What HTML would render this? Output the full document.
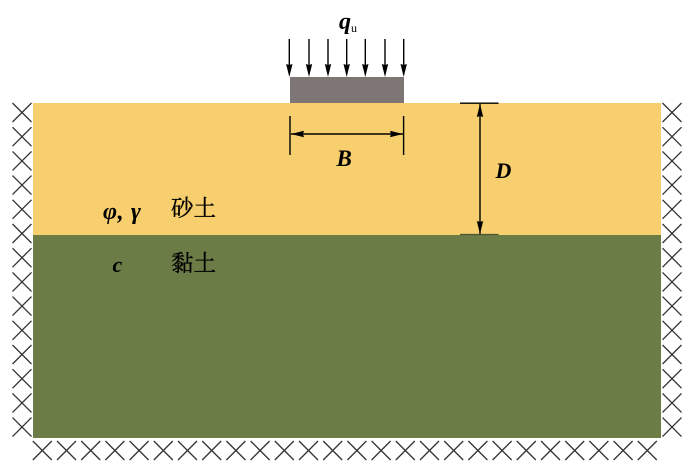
<!DOCTYPE html>
<html>
<head>
<meta charset="utf-8">
<style>
html,body{margin:0;padding:0;background:#fff;width:700px;height:471px;overflow:hidden}
svg{display:block}
.l{font-family:"Liberation Serif",serif;font-style:italic;font-weight:bold;fill:#000}
.z{font-family:"Liberation Serif","Noto Serif CJK SC",serif;font-size:22.500px;fill:#000;stroke:#000;stroke-width:.35px}
</style>
</head>
<body>
<svg width="700" height="471" viewBox="0 0 700 471" xmlns="http://www.w3.org/2000/svg">
<defs>
<path id="x" d="M-9.5-9.5L9.5 9.5M-9.5 9.5L9.5-9.5" stroke="#333" stroke-width="1.3" fill="none"/>
<path id="ad" d="M0 0L-3.200-13L0-12L3.200-13Z" fill="#000"/>
</defs>
<rect x="33" y="103" width="628" height="132" fill="#f8cf6e"/>
<rect x="33" y="235" width="628" height="203" fill="#6b7c47"/>
<rect x="290" y="77" width="114" height="26" fill="#7d7675"/>

<g id="left">
<use href="#x" x="22" y="112.5"/><use href="#x" x="22" y="136.7"/><use href="#x" x="22" y="160.9"/><use href="#x" x="22" y="185.1"/><use href="#x" x="22" y="209.3"/><use href="#x" x="22" y="233.5"/><use href="#x" x="22" y="257.7"/><use href="#x" x="22" y="281.9"/><use href="#x" x="22" y="306.1"/><use href="#x" x="22" y="330.3"/><use href="#x" x="22" y="354.5"/><use href="#x" x="22" y="378.7"/><use href="#x" x="22" y="402.9"/><use href="#x" x="22" y="427.1"/>
</g>
<g id="right">
<use href="#x" x="672" y="112.5"/><use href="#x" x="672" y="136.7"/><use href="#x" x="672" y="160.9"/><use href="#x" x="672" y="185.1"/><use href="#x" x="672" y="209.3"/><use href="#x" x="672" y="233.5"/><use href="#x" x="672" y="257.7"/><use href="#x" x="672" y="281.9"/><use href="#x" x="672" y="306.1"/><use href="#x" x="672" y="330.3"/><use href="#x" x="672" y="354.5"/><use href="#x" x="672" y="378.7"/><use href="#x" x="672" y="402.9"/><use href="#x" x="672" y="427.1"/>
</g>
<g id="bottom">
<use href="#x" x="42.3" y="450.5"/><use href="#x" x="66.5" y="450.5"/><use href="#x" x="90.7" y="450.5"/><use href="#x" x="114.9" y="450.5"/><use href="#x" x="139.1" y="450.5"/><use href="#x" x="163.3" y="450.5"/><use href="#x" x="187.5" y="450.5"/><use href="#x" x="211.7" y="450.5"/><use href="#x" x="235.9" y="450.5"/><use href="#x" x="260.1" y="450.5"/><use href="#x" x="284.3" y="450.5"/><use href="#x" x="308.5" y="450.5"/><use href="#x" x="332.7" y="450.5"/><use href="#x" x="356.9" y="450.5"/><use href="#x" x="381.1" y="450.5"/><use href="#x" x="405.3" y="450.5"/><use href="#x" x="429.5" y="450.5"/><use href="#x" x="453.7" y="450.5"/><use href="#x" x="477.9" y="450.5"/><use href="#x" x="502.1" y="450.5"/><use href="#x" x="526.3" y="450.5"/><use href="#x" x="550.5" y="450.5"/><use href="#x" x="574.7" y="450.5"/><use href="#x" x="598.9" y="450.5"/><use href="#x" x="623.1" y="450.5"/><use href="#x" x="647.3" y="450.5"/>
</g>

<g stroke="#000" stroke-width="1.4" fill="none">
<path d="M289.3 39V68M309 39V68M328 39V68M346.7 39V68M365.3 39V68M385 39V68M403.7 39V68"/>
<path d="M290 116V155M403.6 116V155M291 134H403"/>
<path d="M480 104V234M460 103.2H498.500"/>
</g>
<path d="M460 234.500H498.500" stroke="#4a5530" stroke-width="1.2" fill="none"/>
<g>
<use href="#ad" x="289.3" y="77"/><use href="#ad" x="309" y="77"/><use href="#ad" x="328" y="77"/><use href="#ad" x="346.7" y="77"/><use href="#ad" x="365.3" y="77"/><use href="#ad" x="385" y="77"/><use href="#ad" x="403.7" y="77"/>
<use href="#ad" transform="translate(291 134) rotate(90)"/>
<use href="#ad" transform="translate(403 134) rotate(-90)"/>
<use href="#ad" transform="translate(480 104) rotate(180)"/>
<use href="#ad" x="480" y="234"/>
</g>

<text class="l" x="339" y="29" font-size="24">q</text>
<text x="351" y="32" font-family="Liberation Serif,serif" font-size="12" fill="#000">u</text>
<text class="l" x="336.500" y="166" font-size="23">B</text>
<text class="l" x="495.500" y="178" font-size="22">D</text>
<text class="l" x="103" y="219" font-size="24" letter-spacing=".6">φ, γ</text>
<text class="l" x="112.500" y="272" font-size="22">c</text>
<text class="z" x="171" y="216">砂土</text>
<text class="z" x="171" y="271">黏土</text>
</svg>
</body>
</html>
